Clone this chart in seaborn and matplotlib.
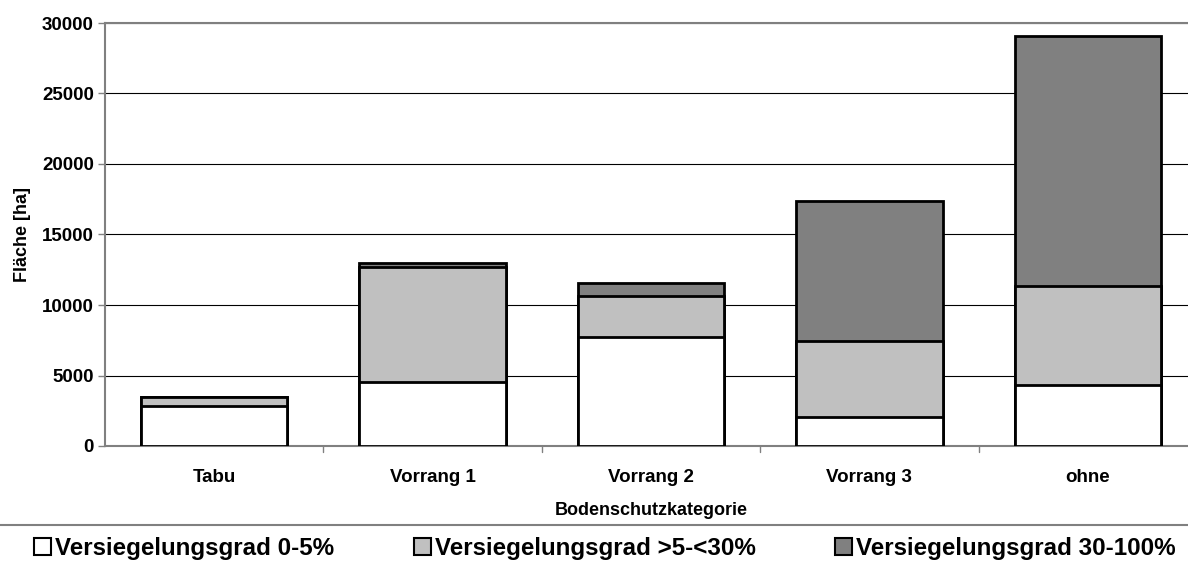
import matplotlib
matplotlib.use("Agg")
import matplotlib.pyplot as plt
from matplotlib.lines import Line2D
from matplotlib.patches import Patch
import numpy as np
import pandas as pd
import seaborn as sns

categories = ["Tabu", "Vorrang 1", "Vorrang 2", "Vorrang 3", "ohne"]
grad_0_5 = [2850, 4560, 7750, 2040, 4330]
grad_5_30 = [650, 8120, 2910, 5390, 7020]
grad_30_100 = [0, 320, 920, 9950, 17730]
series_labels = ["Versiegelungsgrad 0-5%", "Versiegelungsgrad >5-<30%", "Versiegelungsgrad 30-100%"]
series_colors = ["#ffffff", "#c0c0c0", "#808080"]
y_ticks = [0, 5000, 10000, 15000, 20000, 25000, 30000]

sns.set_theme(style="white")
plt.rcParams["font.family"] = ["Liberation Sans", "DejaVu Sans"]
plt.rcParams["font.weight"] = "bold"
plt.rcParams["text.color"] = "black"
plt.rcParams["axes.labelcolor"] = "black"
plt.rcParams["xtick.color"] = "black"
plt.rcParams["ytick.color"] = "black"

df = pd.DataFrame({
    "kategorie": categories,
    "s1": np.array(grad_0_5),
    "s2": np.array(grad_0_5) + np.array(grad_5_30),
    "s3": np.array(grad_0_5) + np.array(grad_5_30) + np.array(grad_30_100),
})

fig = plt.figure(figsize=(11.88, 5.63), dpi=100)
ax = fig.add_axes([105 / 1188, 117 / 563, 1092 / 1188, 423 / 563])

# stacked bars drawn as overlapping cumulative totals
for col, color in zip(["s3", "s2", "s1"], series_colors[::-1]):
    sns.barplot(data=df, x="kategorie", y=col, order=categories, color=color,
                edgecolor="black", linewidth=2, width=0.67, saturation=1,
                ax=ax, zorder=3)

ax.set_ylim(0, 30000)
ax.set_xlim(-0.5, len(categories) - 0.5)
ax.set_yticks(y_ticks)
ax.set_yticklabels([str(t) for t in y_ticks], fontsize=13.5, fontweight="bold")
ax.set_xticks(range(len(categories)))
ax.set_xticklabels(categories, fontsize=13.5, fontweight="bold")
ax.tick_params(axis="x", length=0, pad=16.5)
ax.tick_params(axis="y", length=5, width=1, color="#808080", direction="out", left=True, pad=3)

# category separators on the x axis
for b in np.arange(0.5, len(categories) - 0.5, 1.0):
    ax.plot([b, b], [0, -0.014], transform=ax.get_xaxis_transform(), color="#808080",
            lw=1, clip_on=False)

ax.yaxis.grid(True, color="black", linewidth=0.8, zorder=0)
ax.set_axisbelow(True)
for side in ["left", "bottom", "top"]:
    ax.spines[side].set_color("#808080")
    ax.spines[side].set_linewidth(1.5)
ax.spines["right"].set_visible(False)

ax.set_ylabel("Fläche [ha]", fontsize=13, fontweight="bold", labelpad=8)
ax.set_xlabel("Bodenschutzkategorie", fontsize=13, fontweight="bold", labelpad=11.5)

# separator line above the legend
fig.add_artist(Line2D([0, 1], [1 - 524.5 / 563, 1 - 524.5 / 563], color="#808080", lw=1.5,
                      transform=fig.transFigure))

handles = [Patch(facecolor=c, edgecolor="black", linewidth=1.5) for c in series_colors]
fig.legend(handles, series_labels, loc="center", bbox_to_anchor=(605 / 1188, 1 - 548 / 563),
           ncol=3, frameon=False, prop={"size": 17.4, "weight": "bold"},
           handlelength=0.7, handleheight=0.7, handletextpad=0.17, columnspacing=3.3,
           borderpad=0, borderaxespad=0)

fig.savefig("out.png", dpi=100)
